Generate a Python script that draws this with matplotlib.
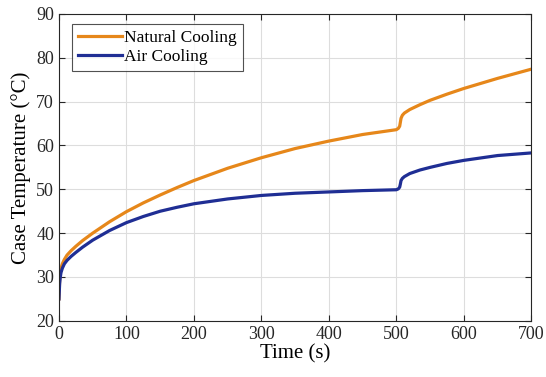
import numpy as np
import matplotlib.pyplot as plt

# Temperature readings taken off the original plot
t_nat = [0, 1, 2, 3, 5, 8, 12, 18, 25, 35, 50, 75, 100, 125, 150, 175, 200,
         250, 300, 350, 400, 450, 500, 503, 505, 506, 507, 509, 512, 520, 535,
         550, 575, 600, 650, 700]
T_nat = [25, 29.5, 31, 32, 33, 34, 35, 36, 37, 38.3, 40, 42.6, 44.9, 46.9,
         48.7, 50.4, 52, 54.8, 57.2, 59.3, 61, 62.5, 63.6, 63.9, 64.4, 65.3,
         66.2, 66.9, 67.4, 68.2, 69.3, 70.3, 71.7, 73, 75.3, 77.4]

t_air = [0, 1, 2, 3, 5, 8, 12, 18, 25, 35, 50, 75, 100, 125, 150, 175, 200,
         250, 300, 350, 400, 450, 500, 503, 505, 506, 507, 509, 512, 520, 535,
         550, 575, 600, 650, 700]
T_air = [25, 28.5, 30, 31, 32, 33, 33.8, 34.7, 35.6, 36.8, 38.4, 40.6, 42.4,
         43.8, 45, 45.9, 46.7, 47.8, 48.6, 49.1, 49.4, 49.7, 49.9, 50.1, 50.5,
         51.2, 52, 52.5, 52.9, 53.6, 54.4, 55, 55.9, 56.6, 57.7, 58.3]

plt.rcParams['font.family'] = ['Liberation Serif', 'DejaVu Serif']

fig = plt.figure(figsize=(5.46, 3.77), dpi=100)
ax = fig.add_axes([0.108, 0.149, 0.865, 0.814])

ax.plot(t_nat, T_nat, color='#E6871A', lw=2.3, label='Natural Cooling')
ax.plot(t_air, T_air, color='#1F2E94', lw=2.3, label='Air Cooling')

ax.set_xlim(0, 700)
ax.set_ylim(20, 90)
ax.set_xticks(np.arange(0, 701, 100))
ax.set_yticks(np.arange(20, 91, 10))
ax.grid(True, color='#DDDDDD', lw=0.8)
ax.tick_params(direction='in', top=True, right=True, labelsize=13, colors='#262626', length=4)
for s in ax.spines.values():
    s.set_color('#262626')
    s.set_linewidth(0.8)

ax.set_xlabel('Time (s)', fontsize=15, labelpad=1)
ax.set_ylabel('Case Temperature (°C)', fontsize=15, labelpad=4)

leg = ax.legend(loc='upper left', fontsize=12.5, frameon=True, fancybox=False,
                edgecolor='#262626', handlelength=2.5, handletextpad=0.15,
                borderpad=0.35, labelspacing=0.15, borderaxespad=0,
                bbox_to_anchor=(0.028, 0.968))
leg.get_frame().set_linewidth(0.8)

fig.savefig('out.png', dpi=100)
